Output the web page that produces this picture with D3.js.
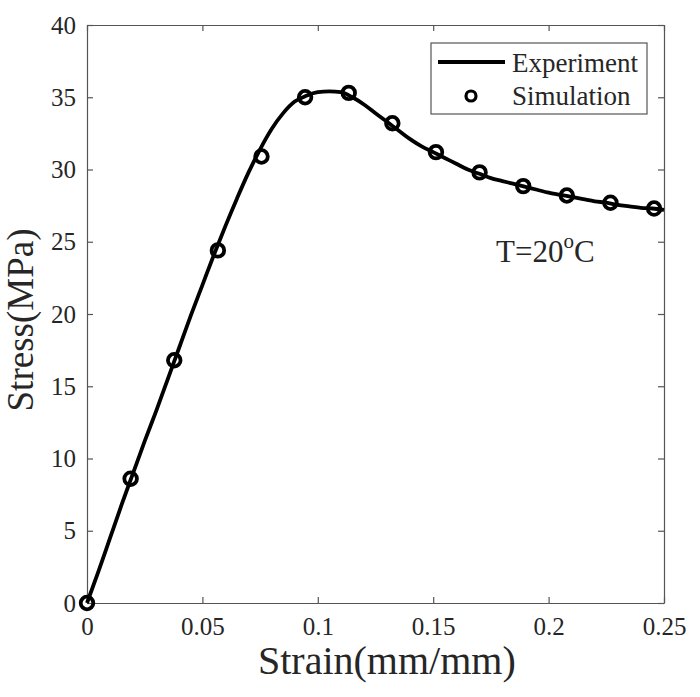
<!DOCTYPE html>
<html><head><meta charset="utf-8">
<script src="https://cdn.jsdelivr.net/npm/d3@7"></script>
<style>body{margin:0;background:#fff}svg{display:block}text{font-family:"Liberation Serif","Times New Roman",serif;fill:#262626}</style>
</head><body><svg id="c" width="700" height="697"></svg>
<script>
const expStrain = [0,0.005,0.01,0.015,0.02,0.025,0.03,0.035,0.04,0.045,0.05,0.055,0.06,0.065,0.07,0.075,0.08,0.085,0.09,0.095,0.1,0.105,0.11,0.115,0.12,0.125,0.13,0.135,0.14,0.145,0.15,0.155,0.16,0.165,0.17,0.175,0.18,0.185,0.19,0.195,0.2,0.205,0.21,0.215,0.22,0.225,0.23,0.235,0.24,0.245,0.25];
const expStress = [0,2.2,4.5,6.8,9.0,11.2,13.3,15.5,17.7,19.9,22.0,24.1,26.1,28.0,29.8,31.4,32.8,33.9,34.7,35.1,35.35,35.4,35.35,35.0,34.5,33.9,33.3,32.7,32.1,31.6,31.2,30.8,30.4,30.0,29.7,29.4,29.2,29.0,28.8,28.6,28.4,28.25,28.1,27.95,27.8,27.7,27.55,27.45,27.35,27.3,27.2];
const simStrain = [0,0.0189,0.0378,0.0567,0.0756,0.0945,0.1134,0.1323,0.1512,0.1701,0.189,0.2079,0.2268,0.2457];
const simStress = [0,8.6,16.8,24.4,30.9,35.0,35.3,33.2,31.2,29.8,28.85,28.2,27.7,27.3];
const xTicks = [0,0.05,0.1,0.15,0.2,0.25];
const xTickLabels = ["0","0.05","0.1","0.15","0.2","0.25"];
const yTicks = [0,5,10,15,20,25,30,35,40];
const legendLabels = ["Experiment","Simulation"];

const svg = d3.select("#c");
const L=87, R=664, T=25, B=603;
const x = d3.scaleLinear().domain([0,0.25]).range([L,R]);
const y = d3.scaleLinear().domain([0,40]).range([B,T]);
const axisColor = "#555";
const serif = "Liberation Serif, Times New Roman, serif";

const gx = svg.append("g").attr("transform",`translate(0,${B})`)
  .call(d3.axisBottom(x).tickValues(xTicks).tickFormat((d,i)=>xTickLabels[i]).tickSizeInner(-6).tickSizeOuter(0).tickPadding(14));
const gxt = svg.append("g").attr("transform",`translate(0,${T})`)
  .call(d3.axisTop(x).tickValues(xTicks).tickFormat("").tickSizeInner(-6).tickSizeOuter(0));
const gy = svg.append("g").attr("transform",`translate(${L},0)`)
  .call(d3.axisLeft(y).tickValues(yTicks).tickSizeInner(-6).tickSizeOuter(0).tickPadding(11));
const gyr = svg.append("g").attr("transform",`translate(${R},0)`)
  .call(d3.axisRight(y).tickValues(yTicks).tickFormat("").tickSizeInner(-6).tickSizeOuter(0));
[gx,gxt,gy,gyr].forEach(g=>{
  g.attr("font-family",serif).attr("font-size",25);
  g.selectAll("path.domain").attr("stroke",axisColor).attr("stroke-width",1.2);
  g.selectAll(".tick line").attr("stroke",axisColor).attr("stroke-width",1.2);
  g.selectAll(".tick text").attr("font-family",serif).style("font-family",serif).style("font-size","25px").attr("fill","#262626");
});
gx.selectAll(".tick text").attr("dy","0.71em");

// experiment curve
const line = d3.line().x((d,i)=>x(expStrain[i])).y((d,i)=>y(expStress[i])).curve(d3.curveMonotoneX);
svg.append("path").datum(expStress).attr("d",line).attr("fill","none").attr("stroke","#000").attr("stroke-width",3.8).attr("stroke-linejoin","round");

// simulation markers
svg.append("g").selectAll("circle").data(simStress).join("circle")
  .attr("cx",(d,i)=>x(simStrain[i])).attr("cy",d=>y(d)).attr("r",6.3)
  .attr("fill","none").attr("stroke","#000").attr("stroke-width",3.8);

// axis labels
svg.append("text").attr("x",258).attr("y",674).attr("text-anchor","start").style("font-size","40px").text("Strain(mm/mm)");
svg.append("text").attr("transform",`translate(33,${(T+B)/2+6}) rotate(-90)`).attr("text-anchor","middle").style("font-size","37px").text("Stress(MPa)");

// annotation
const ann = svg.append("text").attr("x",496).attr("y",262).style("font-size","31px");
ann.append("tspan").text("T=20");
ann.append("tspan").attr("dy",-14).style("font-size","21px").text("o");
ann.append("tspan").attr("dy",14).text("C");

// legend
const lg = svg.append("g");
lg.append("rect").attr("x",431).attr("y",43).attr("width",216).attr("height",71).attr("fill","#fff").attr("stroke",axisColor).attr("stroke-width",1.2);
lg.append("line").attr("x1",438).attr("x2",505).attr("y1",62).attr("y2",62).attr("stroke","#000").attr("stroke-width",4);
lg.append("circle").attr("cx",471).attr("cy",96).attr("r",5).attr("fill","none").attr("stroke","#000").attr("stroke-width",3.2);
lg.selectAll("text").data(legendLabels).join("text").attr("x",512).attr("y",(d,i)=>72+i*33).style("font-size","27px").text(d=>d);
</script></body></html>
